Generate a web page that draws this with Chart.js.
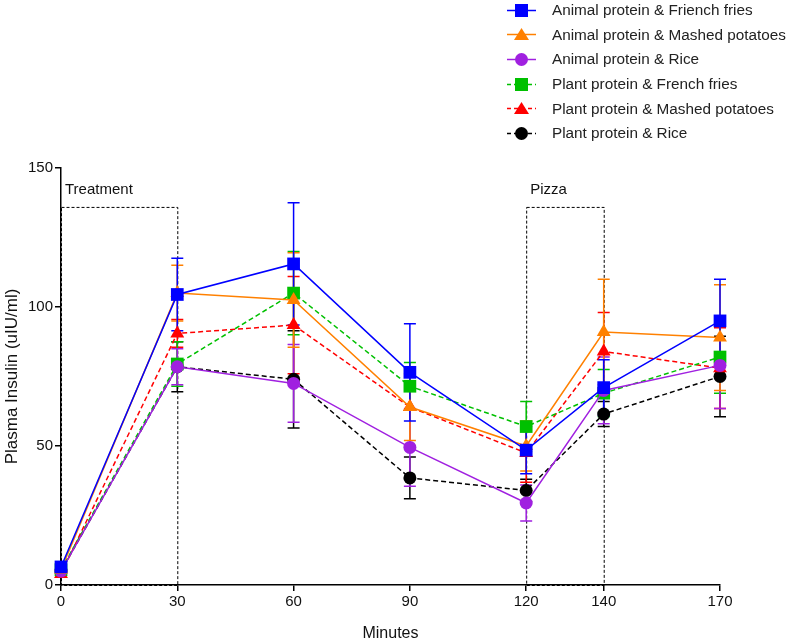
<!DOCTYPE html>
<html>
<head>
<meta charset="utf-8">
<script src="https://cdn.jsdelivr.net/npm/chart.js@4/dist/chart.umd.min.js"></script>
<style>
  body { margin: 0; background: #fff; font-family: Arial, "Liberation Sans", sans-serif; }
  #wrap { position: relative; width: 792px; height: 644px; }
  #legend { position: absolute; left: 506px; top: -2px; }
  .item { height: 24.6px; display: flex; align-items: center; font-size: 15.3px; color: #222; }
  .item svg { margin-right: 15px; }
</style>
</head>
<body>
<div id="wrap">
  <canvas id="insulin" width="792" height="644"></canvas>
  <div id="legend"></div>
</div>
<script>
// time points (minutes) = x ticks
var minutes = [0, 30, 60, 90, 120, 140, 170];
var yTicks = [0, 50, 100, 150];

var seriesNames = [
  "Animal protein & Friench fries",
  "Animal protein & Mashed potatoes",
  "Animal protein & Rice",
  "Plant protein & French fries",
  "Plant protein & Mashed potatoes",
  "Plant protein & Rice"
];

// mean plasma insulin (uIU/ml)
var apFries  = [6.5, 104.5, 115.5, 76.5, 48.5, 71, 95];
var apMashed = [5.5, 105, 102.5, 64, 50, 91, 89];
var apRice   = [5, 78.5, 72.5, 49.5, 29.5, 70, 79];
var ppFries  = [5.5, 79.5, 105, 71.5, 57, 69, 82];
var ppMashed = [4, 90.5, 93.5, 64, 47.5, 84, 78];
var ppRice   = [5, 78.5, 74, 38.5, 34, 61.5, 75];

// SEM
var apFriesErr  = [1.5, 13, 22, 17.5, 8.5, 10, 15];
var apMashedErr = [1, 10, 17, 12, 9, 19, 19];
var apRiceErr   = [1, 6.5, 14, 14, 6.5, 12, 15.5];
var ppFriesErr  = [1, 8, 15, 8.5, 9, 8.5, 13];
var ppMashedErr = [1, 5, 17.5, 14, 10.5, 14, 14.5];
var ppRiceErr   = [1, 9, 17.5, 7.5, 4, 4.5, 14.5];

// dotted periods: [start, end, top, label]
var periods = [[0, 30, 136, "Treatment"], [120, 140, 136, "Pizza"]];

var means = [apFries, apMashed, apRice, ppFries, ppMashed, ppRice];
var errs = [apFriesErr, apMashedErr, apRiceErr, ppFriesErr, ppMashedErr, ppRiceErr];
var colors = ["#0000ff", "#ff8000", "#a020e0", "#00c000", "#ff0000", "#000000"];
var shapes = ["rect", "triangle", "circle", "rect", "triangle", "circle"];
var dashed = [false, false, false, true, true, true];

function sizeFor(shape) {
  if (shape == "rect") return 9;
  if (shape == "triangle") return 8;
  return 6.5;
}

var datasets = means.map(function(m, i) {
  return {
    label: seriesNames[i],
    data: m.map(function(v, j) { return {x: minutes[j], y: v}; }),
    borderColor: colors[i],
    backgroundColor: colors[i],
    borderWidth: 1.5,
    borderDash: dashed[i] ? [5, 3] : [],
    pointStyle: shapes[i],
    pointRadius: sizeFor(shapes[i]),
    pointBorderWidth: 0,
    tension: 0,
    clip: false
  };
});

// error bars, drawn from the scales
var errorBars = {
  id: "errorBars",
  beforeDatasetsDraw: function(chart) {
    var ctx = chart.ctx, xs = chart.scales.x, ys = chart.scales.y;
    ctx.save();
    for (var i = errs.length - 1; i >= 0; i--) {
      ctx.strokeStyle = colors[i];
      ctx.lineWidth = 1.5;
      ctx.setLineDash([]);
      for (var j = 0; j < minutes.length; j++) {
        var x = xs.getPixelForValue(minutes[j]);
        var hi = ys.getPixelForValue(means[i][j] + errs[i][j]);
        var lo = ys.getPixelForValue(Math.max(0, means[i][j] - errs[i][j]));
        ctx.beginPath();
        ctx.moveTo(x, hi); ctx.lineTo(x, lo);
        ctx.moveTo(x - 6, hi); ctx.lineTo(x + 6, hi);
        ctx.moveTo(x - 6, lo); ctx.lineTo(x + 6, lo);
        ctx.stroke();
      }
    }
    ctx.restore();
  }
};

// dotted boxes and their labels
var periodBoxes = {
  id: "periodBoxes",
  beforeDatasetsDraw: function(chart) {
    var ctx = chart.ctx, xs = chart.scales.x, ys = chart.scales.y;
    ctx.save();
    ctx.strokeStyle = "#000";
    ctx.lineWidth = 1;
    ctx.setLineDash([3, 2]);
    ctx.font = "15px Arial, 'Liberation Sans'";
    ctx.fillStyle = "#111";
    ctx.textBaseline = "middle";
    periods.forEach(function(p) {
      var x1 = xs.getPixelForValue(p[0]), x2 = xs.getPixelForValue(p[1]);
      var y1 = ys.getPixelForValue(p[2]), y0 = ys.getPixelForValue(0);
      ctx.strokeRect(x1 + 0.5, y1 + 0.5, x2 - x1, y0 - y1);
      ctx.fillText(p[3], x1 + 4, ys.getPixelForValue(142.3));
    });
    ctx.restore();
  }
};

var font = {family: "Arial, 'Liberation Sans'", size: 15};
Chart.defaults.color = "#111";

new Chart(document.getElementById("insulin"), {
  type: "line",
  data: {datasets: datasets},
  plugins: [periodBoxes, errorBars],
  options: {
    responsive: false,
    animation: false,
    layout: {padding: {top: 168, right: 72, left: 0, bottom: 0}},
    plugins: {legend: {display: false}, tooltip: {enabled: false}},
    scales: {
      x: {
        type: "linear",
        min: 0, max: 170,
        afterBuildTicks: function(s) { s.ticks = minutes.map(function(v) { return {value: v}; }); },
        afterFit: function(s) { s.height = 59; },
        grid: {display: true, drawOnChartArea: false, drawTicks: true, tickLength: 6, color: "#000", lineWidth: 1.5},
        border: {color: "#000", width: 1.5},
        ticks: {font: font, color: "#111", padding: 2, maxRotation: 0, autoSkip: false},
        title: {display: true, text: "Minutes", font: {family: font.family, size: 16}, color: "#111", padding: {top: 0, bottom: 1}}
      },
      y: {
        min: 0, max: 150,
        afterBuildTicks: function(s) { s.ticks = yTicks.map(function(v) { return {value: v}; }); },
        afterFit: function(s) { s.width = 61; },
        grid: {display: true, drawOnChartArea: false, drawTicks: true, tickLength: 6, color: "#000", lineWidth: 1.5},
        border: {color: "#000", width: 1.5},
        ticks: {font: font, color: "#111", padding: 2},
        title: {display: true, text: "Plasma Insulin (uIU/ml)", font: {family: font.family, size: 17}, color: "#111", padding: {top: 2, bottom: 0}}
      }
    }
  }
});

// legend built from the same arrays
var legend = document.getElementById("legend");
seriesNames.forEach(function(name, i) {
  var c = colors[i];
  var mark;
  if (shapes[i] == "rect") mark = '<rect x="9" y="2" width="13" height="13" fill="' + c + '"/>';
  else if (shapes[i] == "triangle") mark = '<polygon points="15.5,2 23,14 8,14" fill="' + c + '"/>';
  else mark = '<circle cx="15.5" cy="8.5" r="6.5" fill="' + c + '"/>';
  var line = '<line x1="1" y1="8.5" x2="30" y2="8.5" stroke="' + c + '" stroke-width="1.5"' +
    (dashed[i] ? ' stroke-dasharray="4,3"' : '') + '/>';
  var div = document.createElement("div");
  div.className = "item";
  div.innerHTML = '<svg width="31" height="17">' + line + mark + '</svg><span>' + name.replace("&", "&amp;") + '</span>';
  legend.appendChild(div);
});
</script>
</body>
</html>
